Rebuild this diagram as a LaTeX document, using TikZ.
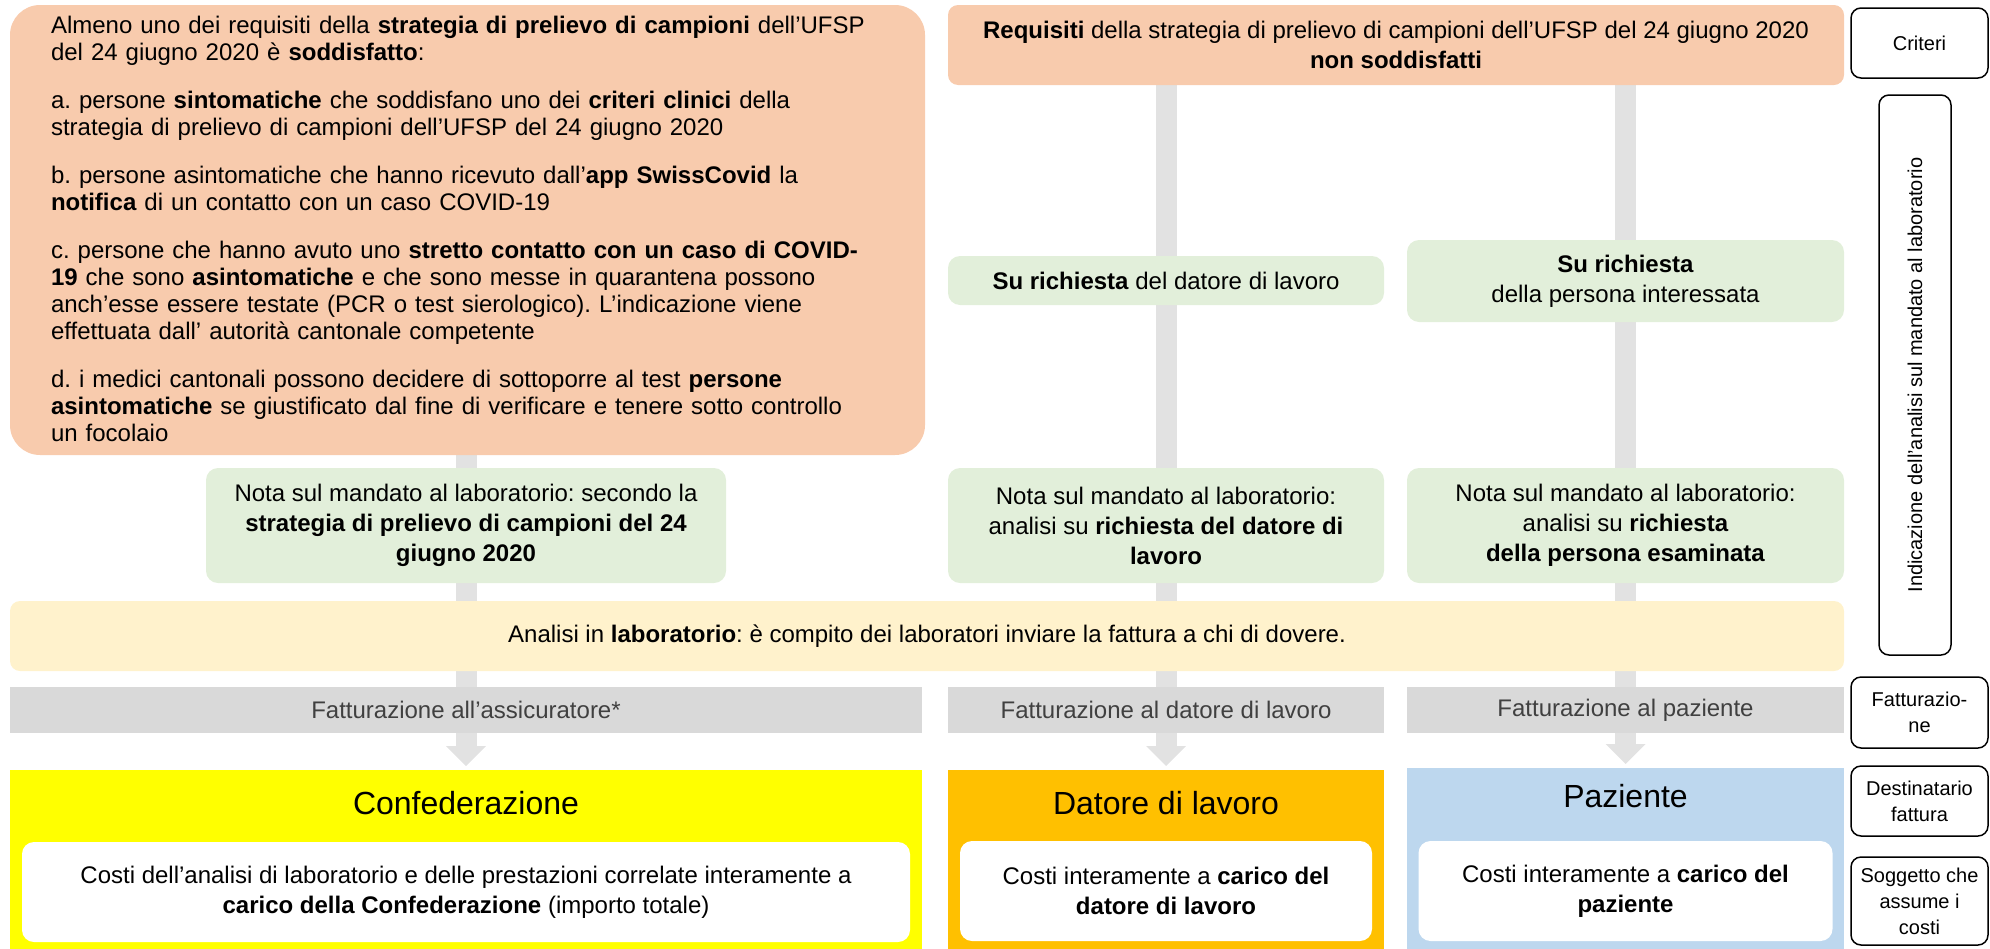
\documentclass[tikz,border=0pt]{standalone}
\usepackage{fontspec}
\setmainfont{Liberation Sans}
\usetikzlibrary{arrows.meta,backgrounds}
\frenchspacing
\definecolor{critorange}{HTML}{F8CBAD}
\definecolor{askgreen}{HTML}{E2EFDA}
\definecolor{labyellow}{HTML}{FFF2CC}
\definecolor{billgray}{HTML}{D9D9D9}
\definecolor{billtext}{HTML}{404040}
\definecolor{stemgray}{HTML}{E2E2E2}
\definecolor{confyellow}{HTML}{FFFF00}
\definecolor{datorange}{HTML}{FFC000}
\definecolor{pazblue}{HTML}{BDD7EE}
\tikzstyle{box} = [inner sep=0pt, outer sep=0pt, align=center, font={\fontsize{12}{15}\selectfont}]
\tikzstyle{crit} = [box, fill=critorange, rounded corners=5pt]
\tikzstyle{ask} = [box, fill=askgreen, rounded corners=6pt]
\tikzstyle{bill} = [box, fill=billgray, text=billtext, minimum height=23pt]
\tikzstyle{cost} = [box, minimum height=90pt]
\tikzstyle{costtitle} = [font={\fontsize{16}{19}\selectfont}]
\tikzstyle{inbox} = [box, fill=white, rounded corners=6pt, minimum height=50pt]
\tikzstyle{side} = [box, draw=black, line width=0.75pt, rounded corners=5pt, fill=white, minimum width=68.5pt, font={\fontsize{10}{13}\selectfont}]
\tikzstyle{stem} = [draw=stemgray, line width=10.5pt, shorten >=2pt, -{Triangle[width=20pt,length=10pt,line width=0pt]}]

\begin{document}
\begin{tikzpicture}[x=0.5pt,y=-0.5pt]
        \useasboundingbox (0,0) rectangle (1990,948);
        \node[crit,rounded corners=15pt,minimum width=457.5pt,minimum height=225pt](crit1) at (467.5,230){};
        \node[box,anchor=west,align=left,text width=440pt,font={\fontsize{12}{13.5}\selectfont}](crit1txt) at (51,229){Almeno uno dei requisiti della \textbf{strategia di prelievo di campioni} dell’UFSP\\
          del 24 giugno 2020 è \textbf{soddisfatto}:\\[10.5pt]
          a. persone \textbf{sintomatiche} che soddisfano uno dei \textbf{criteri clinici} della\\
          strategia di prelievo di campioni dell’UFSP del 24 giugno 2020\\[10.5pt]
          b. persone asintomatiche che hanno ricevuto dall’\textbf{app SwissCovid} la\\
          \textbf{notifica} di un contatto con un caso COVID-19\\[10.5pt]
          c. persone che hanno avuto uno \textbf{stretto contatto con un caso di COVID-}\\
          \textbf{19} che sono \textbf{asintomatiche} e che sono messe in quarantena possono\\
          anch’esse essere testate (PCR o test sierologico). L'indicazione viene\\
          effettuata dall’ autorità cantonale competente\\[10.5pt]
          d. i medici cantonali possono decidere di sottoporre al test \textbf{persone}\\
          \textbf{asintomatiche} se giustificato dal fine di verificare e tenere sotto controllo\\
          un focolaio};
        \node[crit,minimum width=448pt,minimum height=40pt](crit2) at (1396,45){\textbf{Requisiti} della strategia di prelievo di campioni dell’UFSP del 24 giugno 2020\\\textbf{non soddisfatti}};
        \node[ask,minimum width=218pt,minimum height=24.5pt](ask2) at (1166,280.5){\textbf{Su richiesta} del datore di lavoro};
        \node[ask,minimum width=218.5pt,minimum height=41pt](ask3) at (1625.5,281){\textbf{Su richiesta}\\della persona interessata};
        \node[ask,minimum width=260pt,minimum height=57.5pt](nota1) at (466,525.5){Nota sul mandato al laboratorio: secondo la\\\textbf{strategia di prelievo di campioni del 24}\\\textbf{giugno 2020}};
        \node[ask,minimum width=218pt,minimum height=57.5pt](nota2) at (1166,525.5){Nota sul mandato al laboratorio:\\analisi su \textbf{richiesta del datore di}\\\textbf{lavoro}};
        \node[ask,minimum width=218.5pt,minimum height=57.5pt](nota3) at (1625.5,525.5){Nota sul mandato al laboratorio:\\analisi su \textbf{richiesta}\\\textbf{della persona esaminata}};
        \node[box,fill=labyellow,rounded corners=5pt,minimum width=917pt,minimum height=35pt](lab) at (927,636){Analisi in \textbf{laboratorio}: è compito dei laboratori inviare la fattura a chi di dovere.};
        \node[bill,minimum width=456pt](bill1) at (466,710){Fatturazione all’assicuratore*};
        \node[bill,minimum width=218pt](bill2) at (1166,710){Fatturazione al datore di lavoro};
        \node[bill,minimum width=218.5pt](bill3) at (1625.5,710){Fatturazione al paziente};
        \node[cost,fill=confyellow,minimum width=456pt](cost1) at (466,860){};
        \node[cost,fill=datorange,minimum width=218pt](cost2) at (1166,860){};
        \node[cost,fill=pazblue,minimum width=218.5pt,minimum height=91pt](cost3) at (1625.5,859){};
        \node[costtitle](ti1) at (466,803){Confederazione};
        \node[costtitle](ti2) at (1166,803){Datore di lavoro};
        \node[costtitle](ti3) at (1625.5,796){Paziente};
        \node[inbox,minimum width=444pt](in1) at (466,892){Costi dell’analisi di laboratorio e delle prestazioni correlate interamente a\\\textbf{carico della Confederazione} (importo totale)};
        \node[inbox,minimum width=206pt](in2) at (1166,891){Costi interamente a \textbf{carico del}\\\textbf{datore di lavoro}};
        \node[inbox,minimum width=207pt](in3) at (1625.5,891){Costi interamente a \textbf{carico del}\\\textbf{paziente}};
        \node[side,minimum height=35pt](side1) at (1919.5,43){Criteri};
        \node[side,rotate=90,minimum width=280pt,minimum height=36pt](side2) at (1915,375){Indicazione dell’analisi sul mandato al laboratorio};
        \node[side,minimum height=35.5pt](side3) at (1919.5,712.5){Fatturazio-\\ne};
        \node[side,minimum height=35pt](side4) at (1919.5,801){Destinatario\\fattura};
        \node[side,minimum height=44pt](side5) at (1919.5,901){Soggetto che\\assume i\\costi};
        \begin{pgfonlayer}{background}
          \draw[stem](crit1.south -| bill1)--(cost1.north);
          \draw[stem](crit2.south -| bill2)--(cost2.north);
          \draw[stem](crit2.south -| bill3)--(cost3.north);
        \end{pgfonlayer}
      \end{tikzpicture}
\end{document}
